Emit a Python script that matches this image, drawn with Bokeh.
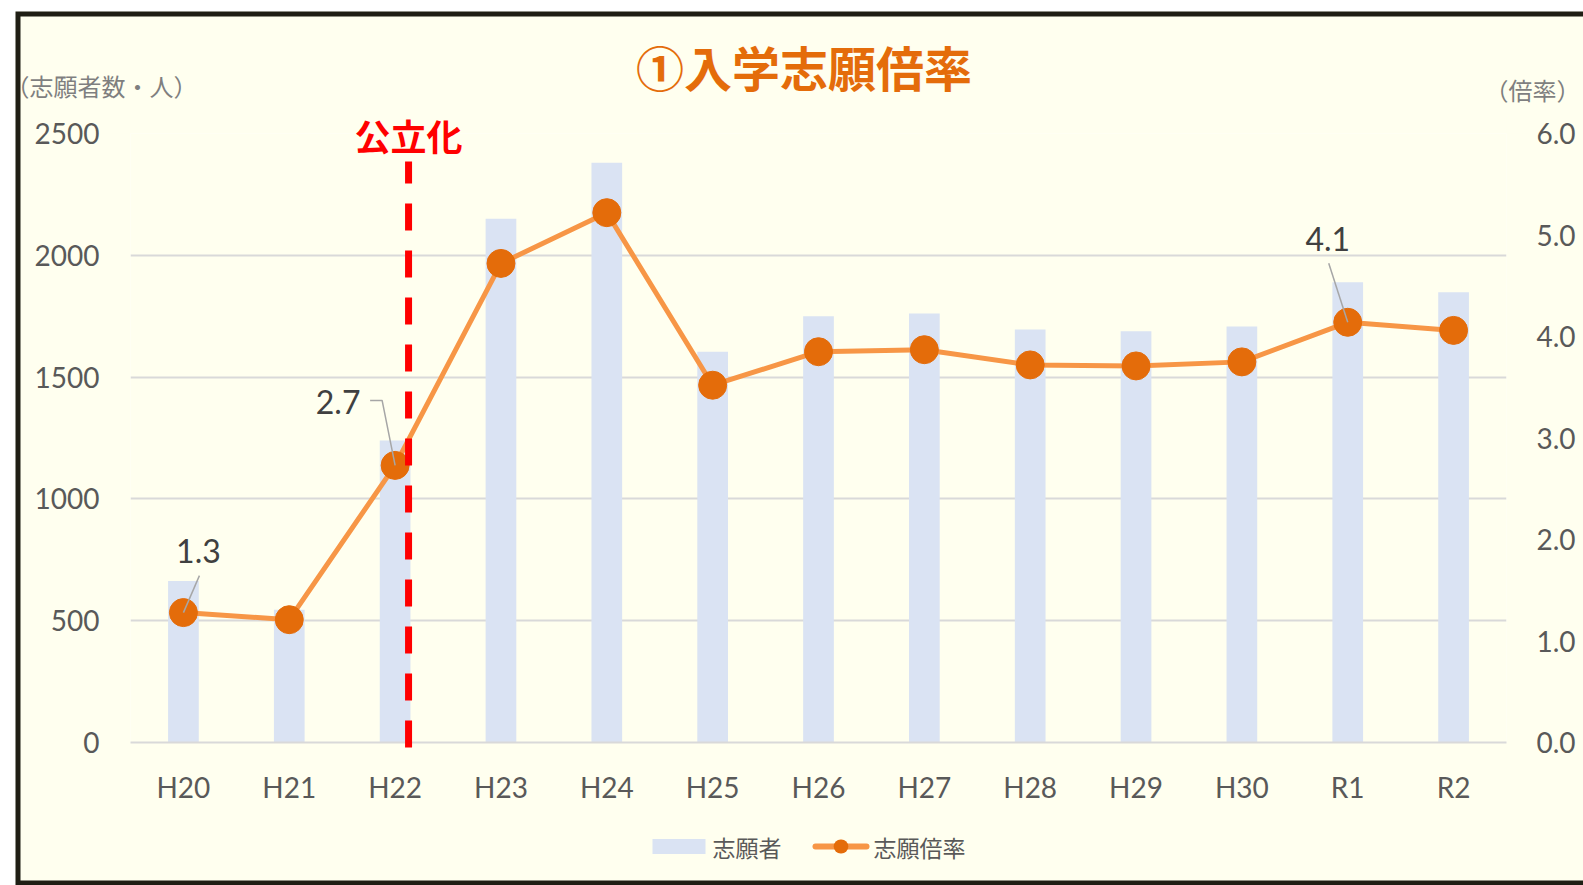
from bokeh.plotting import figure
from bokeh.models import (Range1d, LinearAxis, FixedTicker,
                          ColumnDataSource, NumeralTickFormatter)
from bokeh.embed import file_html
from bokeh.resources import INLINE
from bokeh.core.properties import value

# ---------------- data ----------------
years = ["H20", "H21", "H22", "H23", "H24", "H25", "H26", "H27", "H28", "H29", "H30", "R1", "R2"]
applicants = [663, 545, 1240, 2150, 2380, 1604, 1750, 1761, 1695, 1688, 1708, 1889, 1848]
rates = [1.28, 1.21, 2.73, 4.72, 5.22, 3.52, 3.85, 3.87, 3.72, 3.71, 3.75, 4.14, 4.06]
left_ticks = [0, 500, 1000, 1500, 2000, 2500]
right_ticks = [0, 1, 2, 3, 4, 5, 6]
labeled_years = ["H20", "H22", "R1"]
title_text = "①入学志願倍率"
event_year = "H22"
event_text = "公立化"
left_title = "（志願者数・人）"
right_title = "（倍率）"
series_names = ["志願者", "志願倍率"]

# ---------------- styles ----------------
BG = "#FFFFEF"
BORDER = "#1F1E14"
BAR = "#DAE3F3"
LINE = "#F79646"
MARK = "#E46C0A"
GRID = "#D9D9D9"
TICK = "#595959"
NUMFONT = "Lato"
JPFONT = "Noto Sans CJK JP"

FRAME_W, FRAME_H = 1376, 609
FRAME_LEFT_PAGE, FRAME_BOTTOM_PAGE = 130, 742
n = len(years)
xs = [i + 0.5 for i in range(n)]
PX_X = n / FRAME_W           # x data units per pixel
PX_R = 6.0 / FRAME_H         # rate units per pixel
PX_L = 2500.0 / FRAME_H      # applicant units per pixel


def dx(page_x):
    return (page_x - FRAME_LEFT_PAGE) * PX_X


def dy(page_y):
    return (FRAME_BOTTOM_PAGE - page_y) * PX_L


p = figure(frame_width=FRAME_W, frame_height=FRAME_H,
           x_range=Range1d(0, n), y_range=Range1d(0, 2500),
           output_backend="svg", toolbar_location=None, title=None,
           min_border_left=130, min_border_right=77, min_border_top=133, min_border_bottom=143)
p.background_fill_color = BG
p.border_fill_color = BG
p.outline_line_color = None
p.extra_y_ranges = {"rate": Range1d(0, 6)}

# grid
p.xgrid.visible = False
p.ygrid.grid_line_color = GRID
p.ygrid.grid_line_width = 2
p.ygrid.ticker = FixedTicker(ticks=left_ticks)

# axes
xa = p.xaxis[0]
xa.ticker = FixedTicker(ticks=xs)
xa.major_label_overrides = {x: y for x, y in zip(xs, years)}
xa.axis_line_color = GRID
xa.axis_line_width = 2
xa.major_tick_line_color = None
xa.minor_tick_line_color = None
xa.major_tick_out = 0
xa.major_tick_in = 0
xa.major_label_text_font = NUMFONT
xa.major_label_text_font_size = "28px"
xa.major_label_text_color = TICK
xa.major_label_standoff = 27

ya = p.yaxis[0]
ya.ticker = FixedTicker(ticks=left_ticks)
ya.axis_line_color = None
ya.major_tick_line_color = None
ya.minor_tick_line_color = None
ya.major_tick_out = 0
ya.major_tick_in = 0
ya.major_label_text_font = NUMFONT
ya.major_label_text_font_size = "28px"
ya.major_label_text_color = TICK
ya.major_label_standoff = 31

ra = LinearAxis(y_range_name="rate", ticker=FixedTicker(ticks=right_ticks),
                formatter=NumeralTickFormatter(format="0.0"))
ra.axis_line_color = None
ra.major_tick_line_color = None
ra.minor_tick_line_color = None
ra.major_tick_out = 0
ra.major_tick_in = 0
ra.major_label_text_font = NUMFONT
ra.major_label_text_font_size = "28px"
ra.major_label_text_color = TICK
ra.major_label_standoff = 30
p.add_layout(ra, "right")

# white page area outside the chart box, and the dark box border
p.quad(left=[dx(-5)], right=[dx(15)], top=[dy(-5)], bottom=[dy(900)],
       fill_color="white", line_color=None, level="overlay")
p.quad(left=[dx(-5)], right=[dx(1600)], top=[dy(-5)], bottom=[dy(11)],
       fill_color="white", line_color=None, level="overlay")
p.line(x=[dx(1600), dx(17.5), dx(17.5), dx(1600)],
       y=[dy(13.5), dy(13.5), dy(882.5), dy(882.5)],
       line_color=BORDER, line_width=5, line_join="miter", level="overlay")

# bars
src = ColumnDataSource(dict(x=xs, year=years, app=applicants, rate=rates))
bars = p.vbar(x="x", top="app", width=0.29, source=src, fill_color=BAR, line_color=None)

# event line
ev_i = years.index(event_year)
ev_x = xs[ev_i] + 0.127
p.segment(x0=[ev_x], y0=[dy(747)], x1=[ev_x], y1=[dy(161)], line_color="#FF0000",
          line_width=7, line_dash="27 20", level="overlay")
p.text(x=[ev_x], y=[dy(134)], text=[event_text], text_align="center", text_baseline="middle",
       text_font=value(JPFONT), text_font_size="36px", text_font_style="bold",
       text_color="#FF0000", level="overlay")

# rate line
line = p.line(x="x", y="rate", source=src, y_range_name="rate", line_color=LINE, line_width=5)
marks = p.scatter(x="x", y="rate", source=src, y_range_name="rate", size=28,
                  fill_color=MARK, line_color=MARK)

# data labels with leader lines (offsets in px from the point)
label_offsets = {"H20": (15, -62), "H22": (-57, -63), "R1": (-20, -83)}
leader_offsets = {"H20": [(16, -37), (0, 0)],
                  "H22": [(-25, -65), (-13, -65), (0, 0)],
                  "R1": [(-19, -59), (0, 0)]}
for yr in labeled_years:
    i = years.index(yr)
    px, py = xs[i], rates[i]
    ox, oy = label_offsets[yr]
    p.text(x=[px + ox * PX_X], y=[py - oy * PX_R], y_range_name="rate",
           text=[f"{rates[i]:.1f}"], text_align="center", text_baseline="middle",
           text_font=value(NUMFONT), text_font_size="32px", text_color="#404040")
    lx = [px + a * PX_X for a, b in leader_offsets[yr]]
    ly = [py - b * PX_R for a, b in leader_offsets[yr]]
    p.line(x=lx, y=ly, y_range_name="rate", line_color="#A6A6A6", line_width=1.5)

# title & axis titles (drawn outside the frame, unclipped)
p.text(x=[dx(803.5)], y=[dy(65)], text=[title_text], text_align="center", text_baseline="middle",
       text_font=value(JPFONT), text_font_size="48px", text_font_style="bold",
       text_color=MARK, level="overlay")
p.text(x=[dx(101)], y=[dy(85)], text=[left_title], text_align="center", text_baseline="middle",
       text_font=value(JPFONT), text_font_size="24px", text_color="#7F7F7F", level="overlay")
p.text(x=[dx(1580)], y=[dy(89)], text=[right_title], text_align="right", text_baseline="middle",
       text_font=value(JPFONT), text_font_size="24px", text_color="#7F7F7F", level="overlay")

# legend, drawn below the axis (page-pixel layout)
LEG_Y = 846
p.quad(left=[dx(652)], right=[dx(705)], top=[dy(LEG_Y - 7.5)], bottom=[dy(LEG_Y + 7.5)],
       fill_color=BAR, line_color=None, level="overlay")
p.text(x=[dx(712)], y=[dy(LEG_Y)], text=[series_names[0]], text_align="left",
       text_baseline="middle", text_font=value(JPFONT), text_font_size="23px",
       text_color=TICK, level="overlay")
p.line(x=[dx(815), dx(866)], y=[dy(LEG_Y), dy(LEG_Y)], line_color=LINE, line_width=6,
       line_cap="round", level="overlay")
# legend marker: a very short round-capped stroke (markers outside the frame are culled)
p.line(x=[dx(840.2), dx(840.8)], y=[dy(LEG_Y), dy(LEG_Y)], line_color=MARK, line_width=14,
       line_cap="round", level="overlay")
p.text(x=[dx(873)], y=[dy(LEG_Y)], text=[series_names[1]], text_align="left",
       text_baseline="middle", text_font=value(JPFONT), text_font_size="23px",
       text_color=TICK, level="overlay")

open("out.html", "w").write(file_html(p, INLINE))
